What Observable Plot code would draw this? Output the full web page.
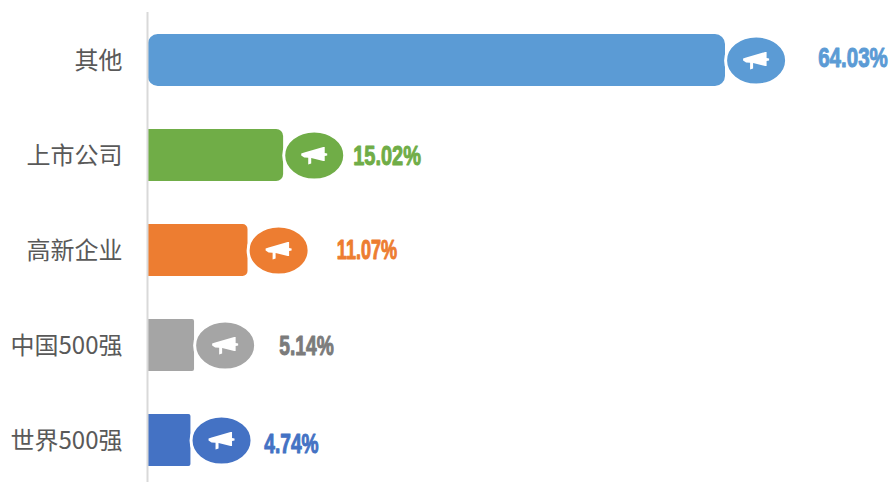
<!DOCTYPE html>
<html><head><meta charset="utf-8">
<script src="https://cdn.jsdelivr.net/npm/d3@7"></script>
<script src="https://cdn.jsdelivr.net/npm/@observablehq/plot@0.6"></script>
<style>html,body{margin:0;padding:0;background:#fff}svg{display:block}</style>
</head><body><div id="chart"></div>
<script>
const categories = ["其他","上市公司","高新企业","中国500强","世界500强"];
const shares = [64.03,15.02,11.07,5.14,4.74];
const barColors = ["#5B9BD5","#70AD47","#ED7D31","#A5A5A5","#4472C4"];
const textColors = ["#5B9BD5","#70AD47","#ED7D31","#7B7B7B","#4472C4"];
const labelOffsets = [127.5,103.5,119,112,100.5];
const labelDy = [-2,1,0,1,4];
const labelSqueeze = [0.76,0.74,0.67,0.71,0.71];
const corners = [{r:10},{rx2:7},{rx2:5},{rx2:2},{rx2:2}];

const rows = categories.map((name,i)=>({name,value:shares[i],color:barColors[i],text:textColors[i],i}));

const ellipse = {draw(c){
  const a=30.5,b=24.5,k=0.5523;
  c.moveTo(a,0);
  c.bezierCurveTo(a,k*b,k*a,b,0,b);
  c.bezierCurveTo(-k*a,b,-a,k*b,-a,0);
  c.bezierCurveTo(-a,-k*b,-k*a,-b,0,-b);
  c.bezierCurveTo(k*a,-b,a,-k*b,a,0);
  c.closePath();
}};
const megaphone = {draw(c){
  c.moveTo(-13,-2);
  c.lineTo(-10,-3);
  c.lineTo(9,-8.5);
  c.lineTo(10.5,-8.5);
  c.lineTo(10.5,-2.5);
  c.lineTo(13,-2);
  c.lineTo(13,0);
  c.lineTo(10.5,0.5);
  c.lineTo(10.5,5.5);
  c.lineTo(9,5.5);
  c.lineTo(-3,2.5);
  c.lineTo(-3,8);
  c.lineTo(-6,9);
  c.lineTo(-6,2.2);
  c.lineTo(-10,2);
  c.lineTo(-13,0);
  c.closePath();
}};

const plot = Plot.plot({
  width:891,height:482,
  marginLeft:148,marginRight:0,marginTop:12,marginBottom:0,
  x:{domain:[0,743.3/9.016],range:[147.7,891],axis:null},
  y:{domain:categories,range:[11.4,487.6],paddingInner:0.454,paddingOuter:0.227,label:null},
  style:{background:"#fff"},
  marks:[
    ...rows.map((d,i)=>Plot.barX([d],{x1:0,x2:"value",y:"name",fill:"color",...corners[i]})),
    Plot.ruleX([0],{stroke:"#D9D9D9",strokeWidth:2,dx:-0.7}),
    Plot.axisY({tickSize:0,tickPadding:0,dx:-26,dy:1,label:null,fontSize:24,
      fontFamily:"'Noto Sans CJK SC',sans-serif",color:"#595959",textAnchor:"end"}),
    Plot.dot(rows,{x:"value",y:"name",dx:30.6,symbol:ellipse,r:10,fill:"color",stroke:"#fff",strokeWidth:3}),
    Plot.dot(rows,{x:"value",y:"name",dx:30.6,symbol:megaphone,r:10,fill:"#fff",stroke:"none"}),
    ...rows.map((d,i)=>Plot.text([d],{x:"value",y:"name",text:v=>v.value.toFixed(2)+"%",
      dx:labelOffsets[i],dy:labelDy[i],fill:"text",stroke:"text",strokeWidth:1,
      fontSize:27,fontWeight:"bold",fontFamily:"'Liberation Sans',sans-serif",
      className:"share-label"}))
  ]
});
d3.select(plot).selectAll(".share-label text").each(function(){
  const i = shares.map(v=>v.toFixed(2)+"%").indexOf(this.textContent);
  if(i>=0){ this.setAttribute("transform",(this.getAttribute("transform")||"")+` scale(${labelSqueeze[i]},1)`); }
});
document.getElementById("chart").append(plot);
</script></body></html>
